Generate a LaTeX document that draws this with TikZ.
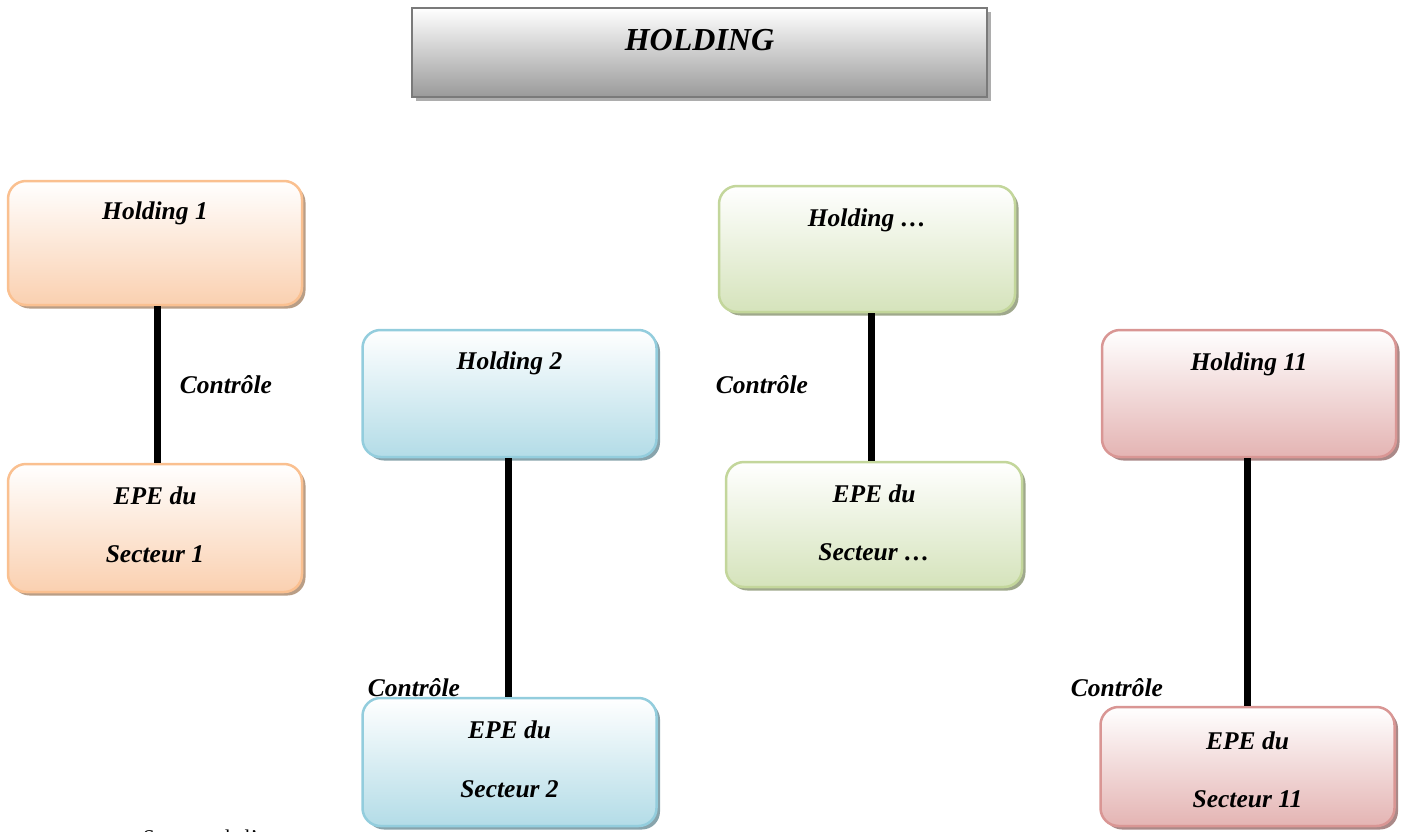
\documentclass[tikz,border=0pt]{standalone}
\usepackage{fontspec}
\setmainfont{Liberation Serif}
\usetikzlibrary{calc,shadows}

% colour pairs: border line and bottom fill of each family
\definecolor{orline}{HTML}{FAC090}\definecolor{orfill}{HTML}{FAD0B0}
\definecolor{blline}{HTML}{93CDDD}\definecolor{blfill}{HTML}{B3DCE7}
\definecolor{grline}{HTML}{C3D69B}\definecolor{grfill}{HTML}{D5E3BB}
\definecolor{rdline}{HTML}{D99694}\definecolor{rdfill}{HTML}{E4B4B3}
\definecolor{hdline}{HTML}{7A7A7A}\definecolor{hdfill}{HTML}{9A9A9A}

\tikzset{
  box/.style={rectangle, rounded corners=18pt, line width=2.5pt, inner sep=0pt,
    minimum width=294pt, draw=#1line, top color=white,
    middle color=#1fill!40!white, bottom color=#1fill,
    drop shadow={shadow xshift=3.5pt, shadow yshift=-3.5pt,
      fill=#1line!65!black, opacity=0.75}},
  headbox/.style={rectangle, line width=2.5pt, inner sep=0pt,
    draw=hdline, top color=white, middle color=hdfill!40!white,
    bottom color=hdfill,
    drop shadow={shadow xshift=4pt, shadow yshift=-4pt,
      fill=gray!80, opacity=0.8}},
  txt/.style={font=\fontsize{25.5}{30}\selectfont\bfseries\itshape, inner sep=0pt},
  link/.style={line width=7pt, black},
}

\begin{document}
\begin{tikzpicture}[x=1pt, y=-1pt]
  \useasboundingbox (0,0) rectangle (1402,832);

  % top box
  \node[headbox, minimum width=575pt, minimum height=89pt] (hold) at (699.5,52.5) {};
  \node[txt, font=\fontsize{32}{36}\selectfont\bfseries\itshape] (holdt) at (699.5,40) {HOLDING};

  % holdings
  \node[box=or, minimum height=124pt] (h1)  at (155,243)    {};
  \node[box=bl, minimum height=127pt] (h2)  at (509.5,393.5) {};
  \node[box=gr, minimum height=126pt, minimum width=296pt] (hd) at (867,249) {};
  \node[box=rd, minimum height=127pt] (h11) at (1249,393.5) {};

  % sector companies
  \node[box=or, minimum height=128pt] (e1)  at (155,528)    {};
  \node[box=bl, minimum height=128pt] (e2)  at (509.5,762)  {};
  \node[box=gr, minimum height=125pt, minimum width=296pt] (ed) at (874,524.5) {};
  \node[box=rd, minimum height=119pt] (e11) at (1247.5,766.5) {};

  % box texts
  \node[txt] (h1t)  at (155,213)   {Holding 1};
  \node[txt] (h2t)  at (509.5,363) {Holding 2};
  \node[txt] (hdt)  at (867,220)   {Holding …};
  \node[txt] (h11t) at (1249,364)  {Holding 11};

  \node[txt] (e1a)  at (155,496)    {EPE du};
  \node[txt] (e1b)  at (155,554)    {Secteur 1};
  \node[txt] (e2a)  at (509.5,730)  {EPE du};
  \node[txt] (e2b)  at (509.5,789)  {Secteur 2};
  \node[txt] (eda)  at (874,494)    {EPE du};
  \node[txt] (edb)  at (874,552)    {Secteur …};
  \node[txt] (e11a) at (1247.5,741) {EPE du};
  \node[txt] (e11b) at (1247.5,799) {Secteur 11};

  % control links
  \coordinate (x1)  at (157,0);
  \coordinate (x2)  at (508,0);
  \coordinate (xd)  at (871,0);
  \coordinate (x11) at (1247,0);
  \draw[link] (h1.south -| x1)   -- (e1.north -| x1);
  \draw[link] (h2.south -| x2)   -- (e2.north -| x2);
  \draw[link] (hd.south -| xd)   -- (ed.north -| xd);
  \draw[link] (h11.south -| x11) -- (e11.north -| x11);

  \node[txt] (c1)  at (226,385)  {Contrôle};
  \node[txt] (c2)  at (414,688)  {Contrôle};
  \node[txt] (cd)  at (762,385)  {Contrôle};
  \node[txt] (c11) at (1117,688) {Contrôle};

  % source line
  \node[anchor=base west, inner sep=0pt, font=\fontsize{21}{25}\selectfont] (src)
    at (143,844) {Source : de l’auteur};
\end{tikzpicture}
\end{document}
